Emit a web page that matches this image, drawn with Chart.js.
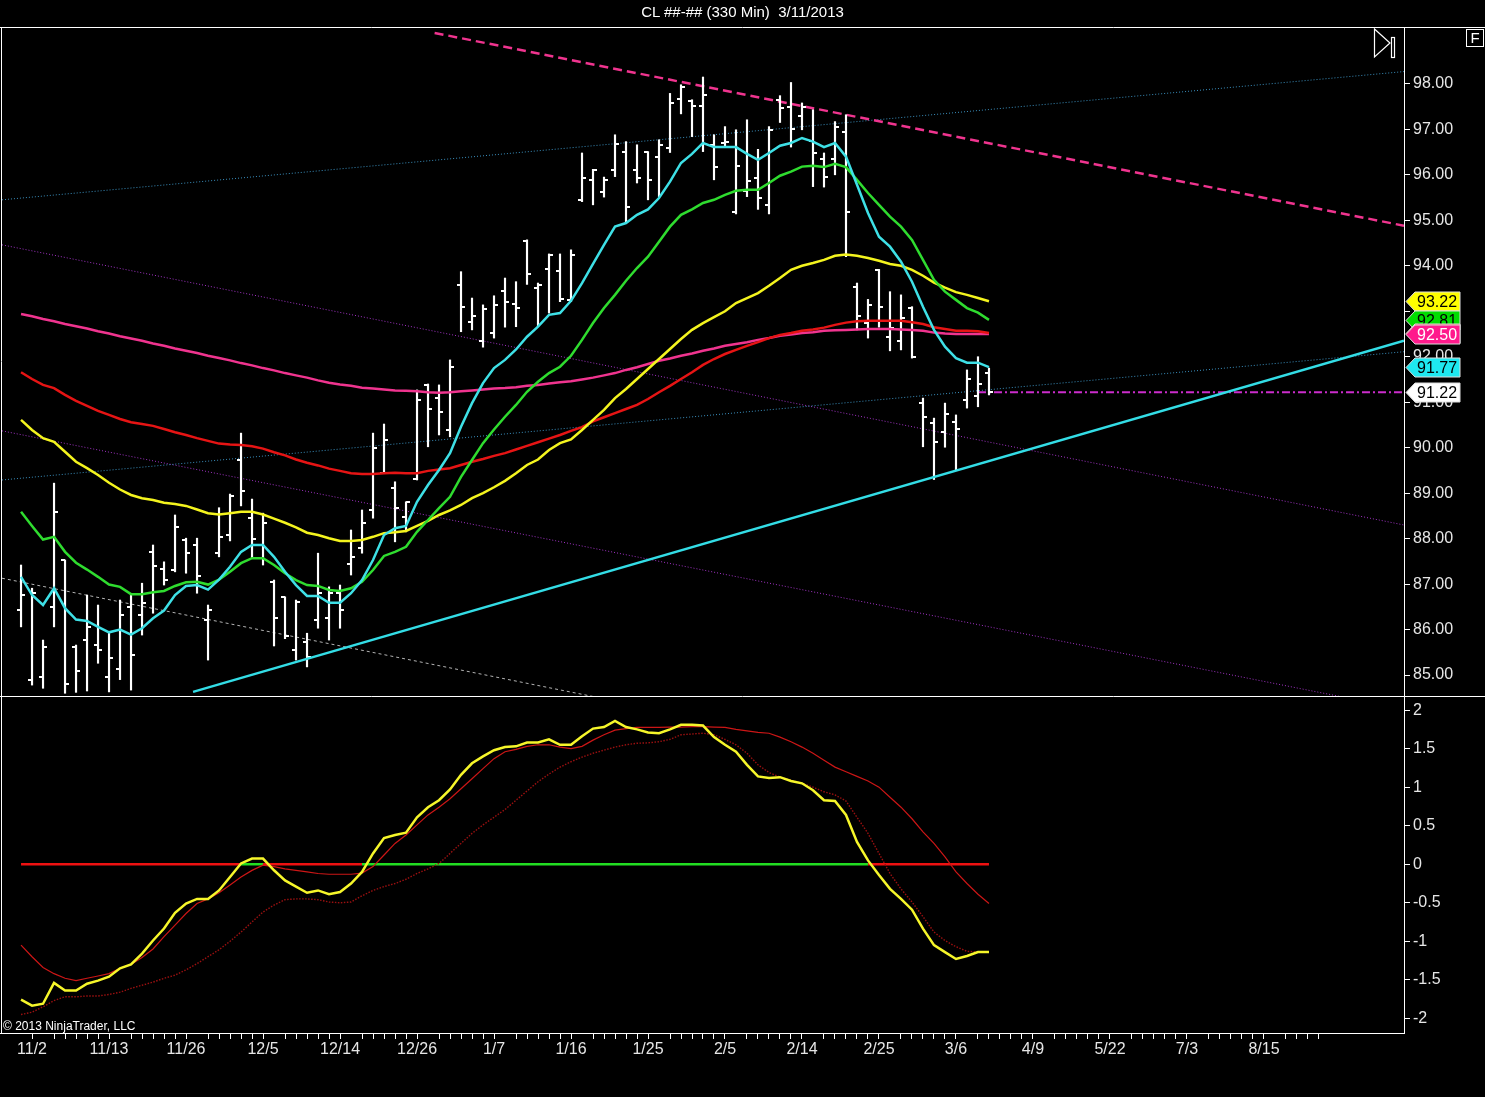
<!DOCTYPE html>
<html>
<head>
<meta charset="utf-8">
<title>CL 330 Min</title>
<script src="https://cdn.jsdelivr.net/npm/chart.js@4.4.1/dist/chart.umd.min.js"></script>
<style>
  html, body { margin: 0; background: #000; overflow: hidden; }
  #wrap { position: relative; width: 1485px; height: 1097px; background: #000; font-family: "Liberation Sans", Arial, sans-serif; }
  #title { position: absolute; top: 3px; left: 0; width: 1485px; text-align: center; color: #fff; font-size: 15px; line-height: 18px; white-space: pre; z-index: 2; }
  #copy { position: absolute; left: 3px; top: 1019px; color: #fff; font-size: 12px; z-index: 2; }
</style>
</head>
<body>
<div id="wrap">
  <div id="title">CL ##-## (330 Min)  3/11/2013</div>
  <canvas id="priceChart" width="1485" height="697" style="position:absolute;left:0;top:0"></canvas>
  <canvas id="oscChart" width="1485" height="400" style="position:absolute;left:0;top:697px"></canvas>
  <div id="copy">© 2013 NinjaTrader, LLC</div>
</div>
<script>
// date labels on the time axis and the bar number they sit on
const dates = ['11/2', '11/13', '11/26', '12/5', '12/14', '12/26', '1/7', '1/16', '1/25', '2/5', '2/14', '2/25', '3/6', '4/9', '5/22', '7/3', '8/15'];
const dateBars = [1, 8, 15, 22, 29, 36, 43, 50, 57, 64, 71, 78, 85, 92, 99, 106, 113];

// 330 minute OHLC bars
const open = [86.43, 84.89, 84.96, 86.50, 87.53, 85.62, 85.77, 85.66, 84.95, 85.13,
  86.50, 86.32, 87.71, 87.33, 87.31, 87.98, 87.86, 86.22, 87.68, 88.08,
  89.73, 88.45, 87.86, 87.05, 86.72, 85.55, 85.73, 86.22, 86.25, 86.80,
  87.44, 87.79, 88.64, 89.44, 89.11, 88.48, 89.31, 91.38, 91.09, 90.39,
  93.58, 92.77, 92.35, 92.52, 93.45, 93.16, 94.55, 93.52, 93.92, 93.89,
  93.25, 95.45, 95.89, 95.63, 96.11, 96.51, 96.11, 96.51, 96.40, 96.59,
  97.66, 97.63, 97.52, 96.66, 96.70, 95.19, 95.65, 95.93, 95.34, 97.65,
  97.50, 97.30, 96.75, 96.34, 96.34, 96.95, 93.54, 92.74, 93.91, 92.43,
  92.35, 93.07, 90.98, 90.54, 90.35, 90.57, 91.05, 91.14, 91.65];
const high = [87.42, 86.91, 85.77, 89.22, 87.53, 85.66, 86.76, 86.54, 85.95, 86.65,
  86.76, 87.02, 87.86, 87.49, 88.52, 88.01, 88.01, 86.54, 88.68, 88.98,
  90.32, 88.87, 88.56, 87.09, 86.72, 86.65, 85.92, 87.68, 86.94, 86.98,
  88.19, 88.63, 90.32, 90.52, 89.25, 88.81, 91.27, 91.40, 91.38, 91.93,
  93.87, 93.29, 93.14, 93.34, 93.73, 93.65, 94.57, 93.62, 94.26, 94.26,
  94.35, 96.48, 96.12, 95.95, 96.88, 96.73, 96.66, 96.51, 96.77, 97.79,
  97.98, 97.65, 98.15, 96.88, 97.06, 96.99, 97.21, 96.56, 97.06, 97.74,
  98.03, 97.58, 97.43, 96.48, 97.17, 97.32, 93.62, 93.26, 93.92, 93.43,
  93.36, 93.10, 91.09, 90.65, 90.98, 90.72, 91.71, 92.00, 91.75];
const low = [86.06, 84.78, 84.71, 86.06, 84.60, 84.62, 84.65, 85.26, 84.63, 84.90,
  84.67, 85.88, 86.36, 86.98, 87.27, 87.24, 86.80, 85.33, 87.60, 87.95,
  88.72, 87.57, 87.42, 85.64, 85.80, 85.33, 85.18, 86.03, 85.77, 86.03,
  87.20, 87.68, 88.45, 89.44, 87.93, 88.15, 89.29, 90.02, 90.28, 90.24,
  92.55, 92.59, 92.21, 92.41, 92.65, 92.66, 93.59, 92.66, 92.96, 93.21,
  93.21, 95.41, 95.34, 95.51, 95.96, 94.94, 95.82, 95.45, 95.52, 96.49,
  97.34, 96.84, 96.51, 95.89, 96.62, 95.14, 95.52, 95.24, 95.14, 97.15,
  96.61, 96.99, 95.74, 95.73, 96.00, 94.20, 92.59, 92.41, 92.65, 92.13,
  92.15, 91.97, 90.02, 89.30, 90.01, 89.51, 90.87, 90.90, 91.16];
const close = [86.75, 86.80, 85.62, 88.59, 84.80, 85.09, 86.06, 85.55, 85.37, 86.32,
  85.44, 86.59, 87.40, 87.10, 88.25, 87.69, 87.18, 86.43, 88.03, 88.94,
  89.05, 88.00, 88.35, 86.25, 85.85, 86.60, 85.40, 86.81, 86.80, 86.43,
  87.60, 88.34, 89.99, 90.17, 88.67, 88.81, 91.05, 90.84, 90.79, 91.78,
  93.10, 92.90, 93.04, 93.13, 93.21, 93.07, 93.82, 93.58, 94.24, 93.26,
  94.24, 95.93, 96.11, 95.89, 96.68, 95.30, 95.93, 95.89, 96.66, 97.58,
  97.94, 97.52, 97.76, 96.17, 96.73, 96.20, 95.86, 95.50, 96.99, 97.47,
  97.00, 97.49, 96.48, 95.95, 97.05, 95.19, 92.90, 93.14, 93.09, 92.63,
  92.85, 92.00, 90.67, 90.13, 90.74, 90.40, 91.50, 91.40, 91.22];

// moving averages, fastest to slowest
const maCyan = [87.16, 86.76, 86.54, 86.91, 86.47, 86.22, 86.19, 86.06, 85.94, 86.00,
  85.89, 86.03, 86.25, 86.42, 86.76, 86.96, 86.98, 86.88, 87.10, 87.38,
  87.71, 87.86, 87.86, 87.60, 87.27, 86.98, 86.74, 86.74, 86.59, 86.59,
  86.80, 87.09, 87.53, 88.08, 88.23, 88.28, 88.81, 89.18, 89.51, 89.88,
  90.46, 90.98, 91.42, 91.75, 91.93, 92.16, 92.44, 92.66, 92.92, 92.96,
  93.23, 93.62, 94.04, 94.46, 94.86, 94.94, 95.12, 95.24, 95.49, 95.85,
  96.26, 96.46, 96.70, 96.61, 96.61, 96.61, 96.46, 96.33, 96.48, 96.64,
  96.70, 96.81, 96.73, 96.61, 96.70, 96.40, 95.78, 95.16, 94.64, 94.42,
  94.09, 93.65, 93.10, 92.59, 92.22, 91.97, 91.87, 91.87, 91.77];
const maGreen = [88.59, 88.28, 87.98, 88.04, 87.71, 87.47, 87.32, 87.16, 86.99, 86.94,
  86.78, 86.78, 86.82, 86.85, 86.96, 87.04, 87.05, 86.99, 87.10, 87.27,
  87.46, 87.57, 87.57, 87.42, 87.24, 87.09, 86.98, 86.96, 86.87, 86.85,
  86.91, 87.05, 87.31, 87.62, 87.71, 87.82, 88.15, 88.41, 88.67, 88.92,
  89.36, 89.73, 90.10, 90.40, 90.68, 90.94, 91.23, 91.45, 91.64, 91.78,
  92.02, 92.37, 92.74, 93.07, 93.36, 93.67, 93.95, 94.20, 94.53, 94.86,
  95.12, 95.24, 95.38, 95.45, 95.56, 95.65, 95.67, 95.67, 95.82, 95.98,
  96.07, 96.18, 96.20, 96.17, 96.24, 96.17, 95.89, 95.60, 95.34, 95.08,
  94.86, 94.57, 94.13, 93.69, 93.43, 93.25, 93.07, 92.97, 92.81];
const maYellow = [90.61, 90.39, 90.21, 90.13, 89.91, 89.69, 89.55, 89.40, 89.23, 89.08,
  88.96, 88.89, 88.85, 88.79, 88.76, 88.72, 88.64, 88.56, 88.53, 88.56,
  88.59, 88.59, 88.53, 88.44, 88.35, 88.25, 88.13, 88.08, 88.01, 87.95,
  87.95, 87.97, 88.04, 88.12, 88.14, 88.17, 88.28, 88.39, 88.52, 88.62,
  88.74, 88.89, 89.00, 89.13, 89.27, 89.44, 89.62, 89.74, 89.95, 90.10,
  90.18, 90.39, 90.61, 90.83, 91.09, 91.29, 91.51, 91.73, 91.95, 92.17,
  92.39, 92.59, 92.74, 92.87, 93.00, 93.18, 93.29, 93.40, 93.56, 93.73,
  93.91, 94.00, 94.06, 94.13, 94.22, 94.25, 94.22, 94.17, 94.11, 94.04,
  94.00, 93.91, 93.78, 93.63, 93.52, 93.42, 93.36, 93.29, 93.22];
const maRed = [91.66, 91.51, 91.38, 91.31, 91.16, 91.03, 90.92, 90.81, 90.72, 90.63,
  90.56, 90.52, 90.48, 90.41, 90.34, 90.28, 90.21, 90.15, 90.09, 90.07,
  90.06, 90.03, 89.98, 89.90, 89.83, 89.74, 89.67, 89.61, 89.54, 89.49,
  89.44, 89.42, 89.42, 89.44, 89.45, 89.44, 89.44, 89.49, 89.52, 89.55,
  89.62, 89.69, 89.75, 89.82, 89.88, 89.96, 90.04, 90.12, 90.20, 90.28,
  90.37, 90.45, 90.58, 90.67, 90.76, 90.85, 90.94, 91.07, 91.22, 91.36,
  91.51, 91.66, 91.82, 91.95, 92.06, 92.15, 92.24, 92.32, 92.41, 92.48,
  92.52, 92.57, 92.60, 92.64, 92.70, 92.75, 92.78, 92.79, 92.79, 92.79,
  92.79, 92.76, 92.72, 92.65, 92.61, 92.57, 92.57, 92.56, 92.52];
const maPink = [92.94, 92.89, 92.83, 92.78, 92.72, 92.67, 92.62, 92.56, 92.51, 92.45,
  92.40, 92.35, 92.29, 92.24, 92.18, 92.13, 92.08, 92.02, 91.97, 91.92,
  91.86, 91.81, 91.75, 91.70, 91.64, 91.59, 91.54, 91.48, 91.43, 91.39,
  91.36, 91.32, 91.30, 91.28, 91.26, 91.25, 91.24, 91.22, 91.21, 91.22,
  91.24, 91.26, 91.28, 91.30, 91.31, 91.33, 91.36, 91.38, 91.41, 91.44,
  91.46, 91.50, 91.54, 91.59, 91.64, 91.71, 91.77, 91.84, 91.91, 91.96,
  92.02, 92.07, 92.13, 92.18, 92.24, 92.28, 92.32, 92.37, 92.41, 92.46,
  92.49, 92.52, 92.54, 92.57, 92.58, 92.59, 92.60, 92.61, 92.61, 92.61,
  92.60, 92.59, 92.57, 92.53, 92.51, 92.50, 92.50, 92.50, 92.50];

// drawn trend lines: [start bar, end bar] and [start price, end price]
const resistX = [37.6, 125.73], resistY = [99.12, 94.88];
const chanHiX = [-1.73, 125.73], chanHiY = [95.45, 98.27];
const chanLoX = [-1.73, 125.73], chanLoY = [89.29, 92.11];
const purpHiX = [-1.73, 125.73], purpHiY = [94.46, 88.30];
const purpLoX = [-1.73, 125.73], purpLoY = [90.37, 84.25];
const greyX = [-1.73, 52.6], greyY = [87.13, 84.50];
const supportX = [15.64, 125.73], supportY = [84.63, 92.35];
const lastX = [87, 125.73], lastY = [91.22, 91.22];

// lower panel oscillator
const oscMain = [-1.757, -1.835, -1.81, -1.54, -1.64, -1.64, -1.55, -1.51, -1.46, -1.35,
  -1.30, -1.16, -0.99, -0.835, -0.63, -0.51, -0.45, -0.45, -0.34, -0.165,
  0.01, 0.074, 0.074, -0.078, -0.21, -0.29, -0.37, -0.34, -0.39, -0.36,
  -0.25, -0.10, 0.14, 0.34, 0.38, 0.41, 0.61, 0.74, 0.83, 0.97,
  1.16, 1.31, 1.40, 1.48, 1.52, 1.53, 1.58, 1.58, 1.62, 1.55,
  1.55, 1.66, 1.76, 1.78, 1.86, 1.78, 1.75, 1.71, 1.70, 1.75,
  1.81, 1.81, 1.80, 1.65, 1.55, 1.46, 1.29, 1.14, 1.12, 1.13,
  1.08, 1.05, 0.96, 0.83, 0.82, 0.64, 0.29, 0.05, -0.14, -0.32,
  -0.45, -0.59, -0.835, -1.05, -1.14, -1.23, -1.19, -1.14, -1.14];
const oscSignal = [-1.05, -1.20, -1.34, -1.42, -1.48, -1.51, -1.48, -1.45, -1.42, -1.35,
  -1.30, -1.21, -1.10, -0.94, -0.79, -0.64, -0.51, -0.45, -0.37, -0.27,
  -0.165, -0.08, -0.013, -0.03, -0.06, -0.08, -0.10, -0.12, -0.13, -0.13,
  -0.13, -0.115, -0.03, 0.12, 0.27, 0.38, 0.51, 0.64, 0.74, 0.85,
  0.98, 1.11, 1.24, 1.37, 1.46, 1.49, 1.53, 1.55, 1.55, 1.52,
  1.50, 1.53, 1.61, 1.68, 1.74, 1.76, 1.775, 1.775, 1.775, 1.78,
  1.78, 1.785, 1.785, 1.78, 1.775, 1.75, 1.73, 1.71, 1.70, 1.65,
  1.59, 1.52, 1.44, 1.35, 1.26, 1.20, 1.14, 1.08, 1.00, 0.87,
  0.74, 0.59, 0.42, 0.27, 0.095, -0.10, -0.25, -0.39, -0.51];
const oscSlow = [-1.95, -1.92, -1.85, -1.77, -1.72, -1.72, -1.71, -1.71, -1.69, -1.66,
  -1.61, -1.57, -1.53, -1.48, -1.44, -1.37, -1.29, -1.20, -1.11, -1.00,
  -0.88, -0.75, -0.62, -0.53, -0.46, -0.45, -0.45, -0.46, -0.49, -0.50,
  -0.49, -0.41, -0.34, -0.29, -0.25, -0.195, -0.12, -0.06, 0.01, 0.14,
  0.27, 0.40, 0.51, 0.61, 0.71, 0.83, 0.95, 1.07, 1.17, 1.26,
  1.33, 1.39, 1.44, 1.48, 1.52, 1.55, 1.57, 1.575, 1.59, 1.62,
  1.68, 1.69, 1.70, 1.68, 1.62, 1.55, 1.44, 1.29, 1.19, 1.13,
  1.09, 1.05, 1.00, 0.94, 0.90, 0.82, 0.61, 0.40, 0.14, -0.12,
  -0.32, -0.49, -0.68, -0.88, -0.99, -1.07, -1.13, -1.14, -1.14];

const priceTicks = [85, 86, 87, 88, 89, 90, 91, 92, 93, 94, 95, 96, 97, 98];
const oscTicks = [-2, -1.5, -1, -0.5, 0, 0.5, 1, 1.5, 2];

Chart.defaults.font.family = '"Liberation Sans", Arial, sans-serif';
Chart.defaults.color = '#e6e6e6';

const FONT = { size: 16 };
const X_MIN = -1.73, X_MAX = 125.73;
const AXIS_W = 81;

function pts(arr) { return arr.map((v, i) => ({ x: i, y: v })); }
function seg(xs, ys) { return xs.map((x, k) => ({ x: x, y: ys[k] })); }

// little horizontal stubs for open (left) and close (right)
function stub(side) {
  const c = document.createElement('canvas');
  c.width = 8; c.height = 2;
  const g = c.getContext('2d');
  g.fillStyle = '#ffffff';
  if (side === 'left') g.fillRect(0, 0, 4, 2); else g.fillRect(4, 0, 4, 2);
  return c;
}

function maLine(data, color) {
  return { type: 'line', data: pts(data), borderColor: color, borderWidth: 2.5, pointRadius: 0, tension: 0, clip: 0 };
}
function trend(xs, ys, color, width, dash) {
  return { type: 'line', data: seg(xs, ys), borderColor: color, borderWidth: width, borderDash: dash || [], pointRadius: 0, tension: 0, clip: 0 };
}

// keep the value axes from reserving room for half a label above and below
function fitAxis(scale) {
  scale.width = AXIS_W;
  scale.paddingTop = 0;
  scale.paddingBottom = 0;
}

const framePrice = {
  id: 'framePrice',
  afterDraw(chart) {
    const ctx = chart.ctx, a = chart.chartArea, W = chart.width;
    ctx.save();
    ctx.strokeStyle = '#ffffff';
    ctx.lineWidth = 1;
    ctx.beginPath();
    ctx.moveTo(0, a.top + 0.5); ctx.lineTo(W, a.top + 0.5);
    ctx.moveTo(0, a.bottom + 0.5); ctx.lineTo(W, a.bottom + 0.5);
    ctx.moveTo(1.5, a.top); ctx.lineTo(1.5, a.bottom);
    ctx.stroke();

    // last value flags on the price axis
    const ys = chart.scales.y;
    const flags = [
      [maYellow, '#ffff00', '#000000'],
      [maGreen, '#00dd00', '#000000'],
      [maRed, '#ee1111', '#ffffff'],
      [maPink, '#ff1a8c', '#ffffff'],
      [maCyan, '#1ee8f0', '#000000'],
      [close, '#ffffff', '#000000']
    ];
    const tip = a.right + 2, body = a.right + 11, end = a.right + 56, h = 9.5;
    ctx.font = '16px "Liberation Sans", Arial, sans-serif';
    ctx.textBaseline = 'middle';
    ctx.textAlign = 'left';
    flags.forEach(f => {
      const v = f[0][f[0].length - 1];
      const y = Math.round(ys.getPixelForValue(v)) + 0.5;
      ctx.beginPath();
      ctx.moveTo(tip, y);
      ctx.lineTo(body, y - h);
      ctx.lineTo(end, y - h);
      ctx.lineTo(end, y + h);
      ctx.lineTo(body, y + h);
      ctx.closePath();
      ctx.fillStyle = f[1];
      ctx.fill();
      ctx.strokeStyle = '#dddddd';
      ctx.stroke();
      ctx.fillStyle = f[2];
      ctx.fillText(v.toFixed(2), body + 2, y + 1);
    });

    // scroll-to-end button and the "F" box
    ctx.strokeStyle = '#ffffff';
    ctx.lineWidth = 1.2;
    ctx.beginPath();
    ctx.moveTo(1374.5, 29); ctx.lineTo(1390, 43); ctx.lineTo(1374.5, 57); ctx.closePath();
    ctx.stroke();
    ctx.strokeRect(1391.5, 37.5, 3, 20);
    ctx.lineWidth = 1;
    ctx.strokeRect(1466.5, 29.5, 17, 17);
    ctx.fillStyle = '#ffffff';
    ctx.font = '15px "Liberation Sans", Arial, sans-serif';
    ctx.textAlign = 'center';
    ctx.fillText('F', 1475, 39);
    ctx.restore();
  }
};

const frameOsc = {
  id: 'frameOsc',
  afterDraw(chart) {
    const ctx = chart.ctx, a = chart.chartArea;
    ctx.save();
    ctx.strokeStyle = '#ffffff';
    ctx.lineWidth = 1;
    ctx.beginPath();
    ctx.moveTo(1.5, 0); ctx.lineTo(1.5, a.bottom);
    ctx.moveTo(0, a.bottom + 0.5); ctx.lineTo(a.right, a.bottom + 0.5);
    ctx.stroke();
    ctx.restore();
  }
};

const priceChart = new Chart(document.getElementById('priceChart'), {
  type: 'line',
  data: {
    datasets: [
      maLine(maCyan, '#3ee0e6'),
      maLine(maGreen, '#2fdc2f'),
      maLine(maYellow, '#f4f41e'),
      maLine(maRed, '#e61414'),
      maLine(maPink, '#f0348f'),
      trend(supportX, supportY, '#33dde6', 2.5),
      { type: 'scatter', data: pts(open), pointStyle: stub('left'), pointRadius: 3, showLine: false, clip: 0 },
      { type: 'scatter', data: pts(close), pointStyle: stub('right'), pointRadius: 3, showLine: false, clip: 0 },
      { type: 'bar', data: high.map((h, i) => ({ x: i, y: [low[i], h] })), backgroundColor: '#ffffff', borderWidth: 0, barThickness: 1.5, grouped: false, clip: 0 },
      trend(lastX, lastY, '#cc2ccc', 2, [8, 3, 2, 3]),
      trend(resistX, resistY, '#f0348f', 2.5, [9, 5]),
      trend(greyX, greyY, '#b4b4b4', 1, [3, 3]),
      trend(chanHiX, chanHiY, '#3a8fbd', 1, [1, 2]),
      trend(chanLoX, chanLoY, '#3a8fbd', 1, [1, 2]),
      trend(purpHiX, purpHiY, '#a033c4', 1, [1, 2]),
      trend(purpLoX, purpLoY, '#a033c4', 1, [1, 2])
    ]
  },
  options: {
    responsive: false,
    animation: false,
    events: [],
    layout: { autoPadding: false, padding: { left: 2, right: 0, top: 27, bottom: 1 } },
    plugins: { legend: { display: false }, tooltip: { enabled: false } },
    scales: {
      x: { type: 'linear', min: X_MIN, max: X_MAX, offset: false, display: false },
      y: {
        type: 'linear',
        position: 'right',
        min: 84.54,
        max: 99.25,
        afterFit: fitAxis,
        afterBuildTicks(scale) { scale.ticks = priceTicks.map(v => ({ value: v })); },
        grid: { drawOnChartArea: false, drawTicks: true, tickLength: 6, color: '#ffffff' },
        border: { display: true, color: '#ffffff', width: 1 },
        ticks: { autoSkip: false, padding: 3, font: FONT, color: '#e6e6e6', callback: v => Number(v).toFixed(2) }
      }
    }
  },
  plugins: [framePrice]
});

// zero line turns green while the oscillator is above it
const zeroLine = oscMain.map(() => 0);

// every bar gets a tick mark, except the one just right of each date
const barTicks = [];
for (let i = 1; i <= 118; i++) if ((i - 1) % 7 !== 1) barTicks.push(i);

const oscChart = new Chart(document.getElementById('oscChart'), {
  type: 'line',
  data: {
    datasets: [
      { data: pts(oscMain), borderColor: '#f6f62a', borderWidth: 2.5, pointRadius: 0, tension: 0, clip: 0 },
      { data: pts(oscSignal), borderColor: '#cc1616', borderWidth: 1.2, pointRadius: 0, tension: 0, clip: 0 },
      { data: pts(oscSlow), borderColor: '#9a1010', borderWidth: 1.4, borderDash: [1.5, 1.5], pointRadius: 0, tension: 0, clip: 0 },
      {
        data: pts(zeroLine), borderWidth: 2.5, pointRadius: 0, tension: 0, clip: 0,
        borderColor: '#ee1111',
        segment: {
          borderColor: c => (oscMain[c.p0DataIndex] + oscMain[c.p1DataIndex]) / 2 > 0 ? '#22dd22' : '#ee1111'
        }
      }
    ]
  },
  options: {
    responsive: false,
    animation: false,
    events: [],
    layout: { autoPadding: false, padding: { left: 2, right: 0, top: 0, bottom: 34 } },
    plugins: { legend: { display: false }, tooltip: { enabled: false } },
    scales: {
      x: {
        type: 'linear',
        min: X_MIN,
        max: X_MAX,
        offset: false,
        afterFit(scale) { scale.height = 30; scale.paddingLeft = 0; scale.paddingRight = 0; },
        afterBuildTicks(scale) { scale.ticks = barTicks.map(v => ({ value: v })); },
        grid: { drawOnChartArea: false, drawTicks: true, tickLength: 6, color: '#ffffff' },
        border: { display: true, color: '#ffffff', width: 1 },
        ticks: {
          autoSkip: false, maxRotation: 0, minRotation: 0, padding: 1, font: FONT, color: '#e6e6e6',
          callback: v => { const k = dateBars.indexOf(v); return k >= 0 ? dates[k] : ''; }
        }
      },
      y: {
        type: 'linear',
        position: 'right',
        min: -2.19,
        max: 2.17,
        afterFit: fitAxis,
        afterBuildTicks(scale) { scale.ticks = oscTicks.map(v => ({ value: v })); },
        grid: { drawOnChartArea: false, drawTicks: true, tickLength: 6, color: '#ffffff' },
        border: { display: true, color: '#ffffff', width: 1 },
        ticks: { autoSkip: false, padding: 3, font: FONT, color: '#e6e6e6', callback: v => String(v) }
      }
    }
  },
  plugins: [frameOsc]
});
</script>
</body>
</html>
